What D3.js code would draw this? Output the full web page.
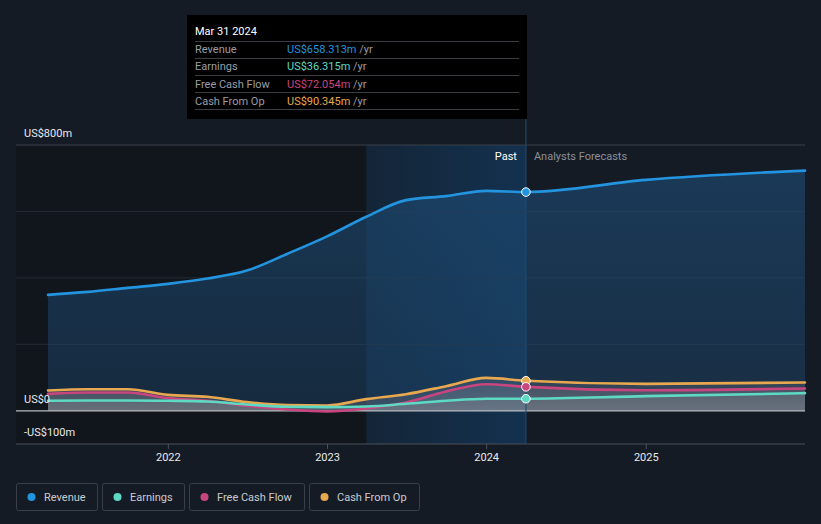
<!DOCTYPE html>
<html><head><meta charset="utf-8">
<script src="https://cdn.jsdelivr.net/npm/d3@7"></script>
<style>
html,body{margin:0;padding:0;background:#151b25;}
svg{display:block;font-family:Roboto,"Noto Sans",sans-serif;}
</style></head>
<body>
<svg id="c" width="821" height="524"></svg>
<script>
const pastDates = ["2021-03-31","2021-06-30","2021-09-30","2021-12-31","2022-03-31","2022-06-30","2022-09-30","2022-12-31","2023-03-31","2023-06-30","2023-09-30","2023-12-31","2024-03-31"];
const forecastDates = ["2024-03-31","2024-12-31","2025-12-31"];
const revenuePast = [349,358,370,382,398,422,472,525,584,634,646,662,658.313];
const earningsPast = [30,31,31,30,28,19,12,11,13,21,30,36,36.315];
const fcfPast = [51,55,55,38,30,15,4,-2,7,25,58,80,72.054];
const cfoPast = [61,65,65,48,42,26,17,16,35,50,74,99,90.345];
const revenueFc = [658.313,695,723];
const earningsFc = [36.315,44,53];
const fcfFc = [72.054,62,67];
const cfoFc = [90.345,81,85];
const yTicks = [800,0,-100];
const yTickLabels = ["US$800m","US$0","-US$100m"];
const gridValues = [200,400,600,800];
const seriesNames = ["Revenue","Earnings","Free Cash Flow","Cash From Op"];
const seriesColors = ["#2394df","#5ed9c4","#c8457f","#e8a84f"];
const tooltipTitle = "Mar 31 2024";
const tooltipValues = ["US$658.313m","US$36.315m","US$72.054m","US$90.345m"];

const svg = d3.select("#c");
const parse = d3.timeParse("%Y-%m-%d");
const x = d3.scaleTime().domain([parse("2021-03-31"), parse("2025-12-31")]).range([48, 805]);
const y = d3.scaleLinear().domain([-100, 800]).range([444, 145]);
const pastEnd = parse("2024-03-31"), bandStart = parse("2023-03-31");

const defs = svg.append("defs");
const g1 = defs.append("linearGradient").attr("id","revFill").attr("x1",0).attr("y1",0).attr("x2",0).attr("y2",1);
g1.append("stop").attr("offset","0%").attr("stop-color","#1d4a72").attr("stop-opacity",0.65);
g1.append("stop").attr("offset","100%").attr("stop-color","#1d4a72").attr("stop-opacity",0.4);
const g2 = defs.append("linearGradient").attr("id","band").attr("x1",0).attr("y1",0).attr("x2",1).attr("y2",0);
g2.append("stop").attr("offset","0%").attr("stop-color","#12375a").attr("stop-opacity",0.35);
g2.append("stop").attr("offset","100%").attr("stop-color","#12375a").attr("stop-opacity",0.8);
const g3 = defs.append("linearGradient").attr("id","smallFill").attr("x1",0).attr("y1",0).attr("x2",0).attr("y2",1);
g3.append("stop").attr("offset","0%").attr("stop-color","#9a9aa0").attr("stop-opacity",0.22);
g3.append("stop").attr("offset","100%").attr("stop-color","#9a9aa0").attr("stop-opacity",0.34);

// plot backgrounds
svg.append("rect").attr("x",16).attr("y",y(800)).attr("width",x(bandStart)-16).attr("height",y(-100)-y(800)).attr("fill","#11151c");
svg.append("rect").attr("x",x(bandStart)).attr("y",y(800)).attr("width",x(pastEnd)-x(bandStart)).attr("height",y(-100)-y(800)).attr("fill","url(#band)");

// gridlines
svg.selectAll(".grid").data(gridValues).enter().append("line")
  .attr("x1",16).attr("x2",805).attr("y1",d=>y(d)).attr("y2",d=>y(d))
  .attr("stroke",d=>d===800?"#3b414b":"#262c36").attr("stroke-width",1);

const mk = (dates, vals) => dates.map((d,i)=>({d:parse(d), v:vals[i]}));
const pastSeries = [revenuePast, earningsPast, fcfPast, cfoPast].map(v=>mk(pastDates,v));
const fcSeries = [revenueFc, earningsFc, fcfFc, cfoFc].map(v=>mk(forecastDates,v));
const all = pastSeries.map((p,i)=>p.concat(fcSeries[i].slice(1)));

const line = d3.line().x(d=>x(d.d)).y(d=>y(d.v)).curve(d3.curveMonotoneX);
const area = d3.area().x(d=>x(d.d)).y0(y(0)).y1(d=>y(d.v)).curve(d3.curveMonotoneX);

// areas
svg.append("path").datum(all[0]).attr("d",area).attr("fill","url(#revFill)");
[3,2,1].forEach(i=>{
  svg.append("path").datum(all[i]).attr("d",area).attr("fill","url(#smallFill)").attr("opacity",0.8);
});

// zero line
svg.append("line").attr("x1",16).attr("x2",805).attr("y1",y(0)).attr("y2",y(0)).attr("stroke","#b9bcc2").attr("stroke-width",1.3);

// lines
[3,2,1,0].forEach(i=>{
  svg.append("path").datum(all[i]).attr("d",line).attr("fill","none")
    .attr("stroke",seriesColors[i]).attr("stroke-width",2.6).attr("stroke-linecap","round");
});

// x axis
svg.append("line").attr("x1",16).attr("x2",805).attr("y1",y(-100)).attr("y2",y(-100)).attr("stroke","#4a505a").attr("stroke-width",1);
const xt = x.ticks(d3.timeYear.every(1));
svg.selectAll(".xt").data(xt).enter().append("line")
  .attr("x1",d=>x(d)).attr("x2",d=>x(d)).attr("y1",y(-100)).attr("y2",y(-100)+5).attr("stroke","#4a505a");
svg.selectAll(".xl").data(xt).enter().append("text")
  .attr("x",d=>x(d)).attr("y",461).attr("text-anchor","middle").attr("fill","#e8eaed")
  .attr("font-size",11).text(d3.timeFormat("%Y"));

// y labels
const yLabelY = {800:137, 0:403, "-100":436};
svg.selectAll(".yl").data(yTicks).enter().append("text")
  .attr("x",24).attr("y",d=>yLabelY[d]).attr("fill","#e8eaed").attr("font-size",11)
  .text((d,i)=>yTickLabels[i]);

// vertical divider
svg.append("line").attr("x1",x(pastEnd)).attr("x2",x(pastEnd)).attr("y1",15).attr("y2",y(-100)).attr("stroke","#1f4c74").attr("stroke-width",1);

// Past / Forecast labels
svg.append("text").attr("x",x(pastEnd)-9).attr("y",160).attr("text-anchor","end").attr("fill","#ffffff").attr("font-size",11).text("Past");
svg.append("text").attr("x",x(pastEnd)+8).attr("y",160).attr("fill","#8b9099").attr("font-size",11).text("Analysts Forecasts");

// markers
[3,2,1,0].forEach(i=>{
  const p = pastSeries[i][pastSeries[i].length-1];
  svg.append("circle").attr("cx",x(p.d)).attr("cy",y(p.v)).attr("r",4.3)
    .attr("fill",seriesColors[i]).attr("stroke","#ffffff").attr("stroke-width",1);
});

// tooltip
const tt = svg.append("g");
tt.append("rect").attr("x",187).attr("y",15).attr("width",340).attr("height",104).attr("fill","#000000");
tt.append("text").attr("x",195).attr("y",35).attr("fill","#ffffff").attr("font-size",11).text(tooltipTitle);
const rowSep = [41,58,75,92,109];
rowSep.forEach(yy=>tt.append("line").attr("x1",195).attr("x2",519).attr("y1",yy+0.5).attr("y2",yy+0.5).attr("stroke","#3a3d42"));
seriesNames.forEach((n,i)=>{
  const yy = 53 + i*17.3;
  tt.append("text").attr("x",195).attr("y",yy).attr("fill","#9a9ea5").attr("font-size",11).text(n);
  const t = tt.append("text").attr("x",287).attr("y",yy).attr("font-size",11);
  t.append("tspan").attr("fill",seriesColors[i]).text(tooltipValues[i]);
  t.append("tspan").attr("fill","#9a9ea5").text(" /yr");
});

// legend
const legendX = [16,102,189,309], legendW = [81,82,115,110];
seriesNames.forEach((n,i)=>{
  const lg = svg.append("g");
  lg.append("rect").attr("x",legendX[i]+0.5).attr("y",483.5).attr("width",legendW[i]).attr("height",27).attr("rx",2)
    .attr("fill","none").attr("stroke","#3a3f48");
  lg.append("circle").attr("cx",legendX[i]+15.5).attr("cy",497).attr("r",4).attr("fill",seriesColors[i]);
  lg.append("text").attr("x",legendX[i]+28).attr("y",501).attr("fill","#c9ccd1").attr("font-size",11).text(n);
});
</script>
</body></html>
